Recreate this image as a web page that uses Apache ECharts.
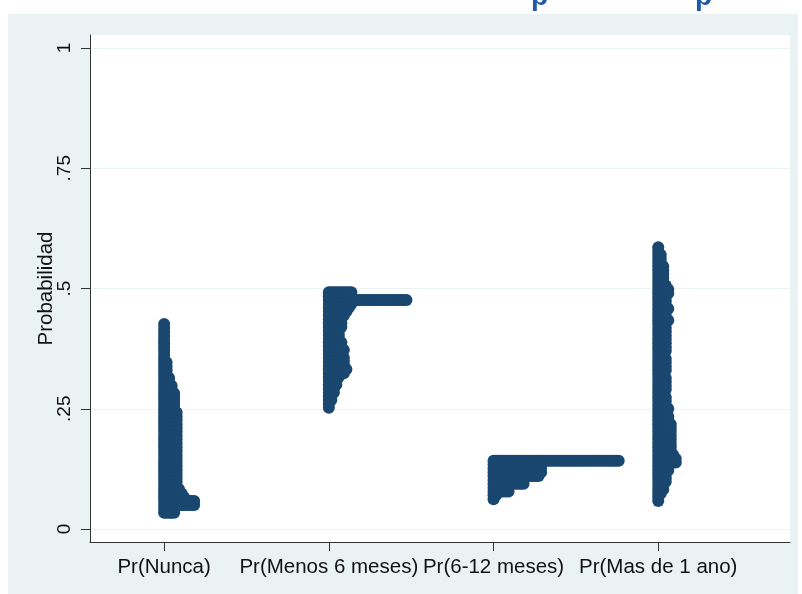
<!DOCTYPE html>
<html><head><meta charset="utf-8">
<script src="https://cdn.jsdelivr.net/npm/echarts@6/dist/echarts.min.js"></script>
<style>html,body{margin:0;padding:0;background:#fff}#c{width:802px;height:594px}</style>
</head><body><div id="c"></div>
<script>
// ---- data ----
const categories = ['Pr(Nunca)', 'Pr(Menos 6 meses)', 'Pr(6-12 meses)', 'Pr(Mas de 1 ano)'];
const yTickValues = [0, 0.25, 0.5, 0.75, 1];
const yTickLabels = ['0', '.25', '.5', '.75', '1'];

// Predicted probability (binned) and number of stacked dots in each bin
const nuncaProb = [0.034,0.042,0.050,0.058,0.066,0.074,0.082,0.090,0.098,0.106,
  0.114,0.122,0.130,0.138,0.146,0.154,0.162,0.170,0.178,0.186,
  0.194,0.202,0.210,0.218,0.226,0.234,0.242,0.250,0.258,0.266,
  0.274,0.282,0.290,0.298,0.306,0.314,0.322,0.330,0.338,0.346,
  0.354,0.362,0.370,0.378,0.386,0.394,0.402,0.410,0.418,0.426];
const nuncaCount = [5,5,13,13,9,8,7,6,6,6,
  6,6,6,6,6,6,6,6,6,6,
  6,6,6,6,6,6,6,5,5,5,
  5,5,4,4,3,3,2,2,2,2,
  1,1,1,1,1,1,1,1,1,1];

const menosProb = [0.252,0.260,0.268,0.276,0.284,0.292,0.300,0.308,0.316,0.324,
  0.332,0.340,0.348,0.356,0.364,0.372,0.380,0.388,0.396,0.404,
  0.412,0.420,0.428,0.436,0.444,0.452,0.460,0.468,0.476,0.484,0.492];
const menosCount = [1,1,2,2,3,3,4,4,5,7,
  8,7,7,7,6,7,6,6,5,5,
  5,6,6,6,7,8,9,10,32,10,10];

const seisDoceProb = [0.062,0.070,0.078,0.086,0.094,0.102,0.110,0.118,0.126,0.134,0.142];
const seisDoceCount = [1,2,7,7,13,13,19,20,20,20,51];

const masProb = [0.058,0.066,0.074,0.082,0.090,0.098,0.106,0.114,0.122,0.130,
  0.138,0.146,0.154,0.162,0.170,0.178,0.186,0.194,0.202,0.210,
  0.218,0.226,0.234,0.242,0.250,0.258,0.266,0.274,0.282,0.290,
  0.298,0.306,0.314,0.322,0.330,0.338,0.346,0.354,0.362,0.370,
  0.378,0.386,0.394,0.402,0.410,0.418,0.426,0.434,0.442,0.450,
  0.458,0.466,0.474,0.482,0.490,0.498,0.506,0.514,0.522,0.530,
  0.538,0.546,0.554,0.562,0.570,0.578,0.586];
const masCount = [1,1,2,3,3,4,4,4,5,5,
  8,8,7,6,6,6,6,6,6,6,
  6,5,5,4,5,4,4,4,3,4,
  4,4,4,3,4,4,4,4,3,4,
  4,4,4,4,4,4,4,5,4,4,
  5,4,4,4,5,5,4,3,3,3,
  3,3,2,2,2,1,1];

// ---- build stacked dot positions from the data ----
const groups = [[nuncaProb, nuncaCount], [menosProb, menosCount], [seisDoceProb, seisDoceCount], [masProb, masCount]];
const STACK_STEP = 0.0152; // horizontal offset between stacked dots (x units)
const points = [];
groups.forEach(function (g, i) {
  const probs = g[0], counts = g[1];
  probs.forEach(function (p, j) {
    for (let k = 0; k < counts[j]; k++) points.push([i + 1 + k * STACK_STEP, p]);
  });
});

const FONT = "'Liberation Sans', Arial, sans-serif";
const chart = echarts.init(document.getElementById('c'), null, {renderer: 'canvas'});
chart.setOption({
  animation: false,
  backgroundColor: '#eaf2f3',
  textStyle: {fontFamily: FONT},
  graphic: [
    {type: 'rect', silent: true, z: 100, shape: {x: 0, y: 0, width: 802, height: 14}, style: {fill: '#ffffff'}},
    {type: 'rect', silent: true, z: 100, shape: {x: 0, y: 0, width: 8, height: 594}, style: {fill: '#ffffff'}},
    {type: 'rect', silent: true, z: 100, shape: {x: 798, y: 0, width: 4, height: 594}, style: {fill: '#ffffff'}},
    {type: 'text', silent: true, z: 101, x: 531, y: 11, style: {text: 'p', fontSize: 28, fontWeight: 'bold', fontFamily: FONT, fill: '#1f5aa6', verticalAlign: 'bottom'}},
    {type: 'text', silent: true, z: 101, x: 695, y: 11, style: {text: 'p', fontSize: 28, fontWeight: 'bold', fontFamily: FONT, fill: '#1f5aa6', verticalAlign: 'bottom'}}
  ],
  grid: [
    {left: 90, right: 12, top: 48, bottom: 65, show: false},
    {left: 90, right: 12, top: 35, bottom: 52, show: true, backgroundColor: '#ffffff', borderWidth: 0, z: -1}
  ],
  xAxis: [
    {
      gridIndex: 0, type: 'value', min: 0.55, max: 4.8, offset: 13,
      axisLine: {show: true, onZero: false, lineStyle: {color: '#333333', width: 1}},
      axisTick: {show: true, customValues: [1, 2, 3, 4], length: 9, lineStyle: {color: '#333333'}},
      axisLabel: {customValues: [1, 2, 3, 4], formatter: function (v) { return categories[Math.round(v) - 1]; },
        fontSize: 20.5, color: '#111111', margin: 15, fontFamily: FONT},
      splitLine: {show: false}
    },
    {gridIndex: 1, type: 'value', min: 0, max: 1, show: false}
  ],
  yAxis: [
    {
      gridIndex: 0, type: 'value', min: 0, max: 1, interval: 0.25,
      axisLine: {show: false},
      axisTick: {show: true, length: 9, lineStyle: {color: '#333333'}},
      axisLabel: {rotate: 90, fontSize: 19, color: '#111111', margin: 16, fontFamily: FONT,
        formatter: function (v) { const i = yTickValues.indexOf(v); return i >= 0 ? yTickLabels[i] : String(v); }},
      splitLine: {show: true, lineStyle: {color: '#eaf2f3', width: 1}},
      name: 'Probabilidad', nameLocation: 'middle', nameGap: 33, nameMoveOverlap: false,
      nameTextStyle: {fontSize: 20.5, color: '#111111', fontFamily: FONT}
    },
    {
      gridIndex: 1, type: 'value', min: 0, max: 1,
      axisLine: {show: true, onZero: false, lineStyle: {color: '#333333', width: 1}},
      axisTick: {show: false}, axisLabel: {show: false}, splitLine: {show: false}
    }
  ],
  series: [{
    type: 'scatter', xAxisIndex: 0, yAxisIndex: 0, data: points,
    symbol: 'circle', symbolSize: 12, clip: false,
    itemStyle: {color: '#1a476f', opacity: 1}
  }]
});
</script></body></html>
